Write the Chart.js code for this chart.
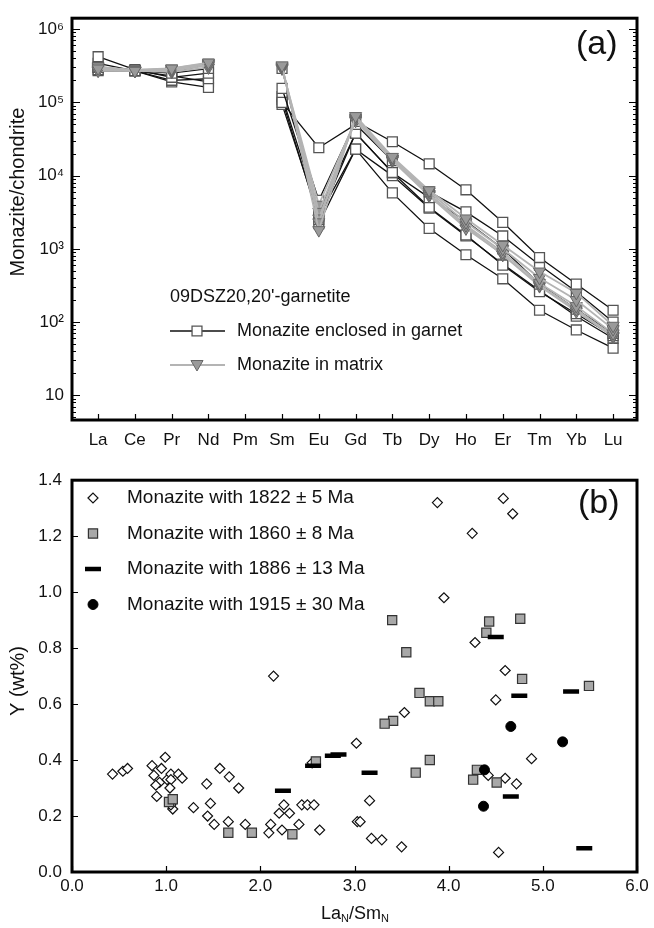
<!DOCTYPE html>
<html>
<head>
<meta charset="utf-8">
<script src="https://cdn.jsdelivr.net/npm/chart.js@4.4.1/dist/chart.umd.min.js"></script>
<style>
  body { margin: 0; background: #fff; width: 654px; height: 928px; position: relative; overflow: hidden; }
  .box { position: absolute; left: 0; width: 654px; }
  #boxA { top: 0; height: 460px; }
  #boxB { top: 460px; height: 468px; }
</style>
</head>
<body>
<div class="box" id="boxA"><canvas id="chartA" width="654" height="460"></canvas></div>
<div class="box" id="boxB"><canvas id="chartB" width="654" height="468"></canvas></div>
<script>
// ---- panel (a): chondrite-normalised REE ----
const ree = ["La", "Ce", "Pr", "Nd", "Pm", "Sm", "Eu", "Gd", "Tb", "Dy", "Ho", "Er", "Tm", "Yb", "Lu"];

// monazite enclosed in garnet (open squares)
const garnet1 = [3.0e5, 2.7e5, 2.5e5, 2.9e5, null, 1.55e5, 4.6e3, 5.5e4, 2.9e4, 1.45e4, 6.4e3, 2.3e3, 760, 330, 145];
const garnet2 = [4.2e5, 2.8e5, 2.2e5, 2.5e5, null, 1.0e5, 2.4e4, 5.0e4, 1.6e4, 6.0e3, 3.2e3, 1.5e3, 600, 260, 100];
const garnet3 = [3.4e5, 2.7e5, 2.0e5, 2.1e5, null, 1.2e5, 3.2e3, 3.8e4, 1.1e4, 5.0e3, 2.4e3, 1.0e3, 330, 150, 70];
const garnet4 = [2.8e5, 2.7e5, 1.9e5, 1.6e5, null, 9.4e4, 2.8e3, 2.3e4, 5.8e3, 1.9e3, 830, 390, 145, 78, 44];
const garnet5 = [3.0e5, 2.7e5, 2.3e5, 1.9e5, null, 1.1e5, 2.5e3, 3.8e4, 1.1e4, 3.7e3, 1.55e3, 600, 260, 130, 65];
const garnet6 = [2.7e5, 2.7e5, 2.6e5, 3.3e5, null, 2.9e5, 2.2e3, 2.3e4, 1.0e4, 3.6e3, 1.5e3, 620, 270, 120, 60];

// monazite in matrix (grey triangles)
const matrix1 = [2.9e5, 2.7e5, 2.9e5, 3.5e5, null, 3.2e5, 1.8e3, 6.5e4, 1.8e4, 6.3e3, 2.6e3, 1.13e3, 490, 250, 89];
const matrix2 = [3.1e5, 2.7e5, 2.8e5, 3.3e5, null, 3.1e5, 2.3e3, 6.2e4, 1.7e4, 6.0e3, 2.3e3, 1.0e3, 400, 200, 80];
const matrix3 = [2.7e5, 2.7e5, 2.7e5, 3.2e5, null, 3.0e5, 2.6e3, 6.0e4, 1.65e4, 5.6e3, 2.1e3, 900, 340, 165, 70];
const matrix4 = [2.8e5, 2.7e5, 2.6e5, 3.0e5, null, 3.0e5, 3.2e3, 5.6e4, 1.6e4, 5.3e3, 1.9e3, 840, 320, 150, 65];
const matrix5 = [3.0e5, 2.8e5, 2.9e5, 3.4e5, null, 2.9e5, 4.0e3, 5.8e4, 1.7e4, 5.5e3, 2.0e3, 830, 310, 140, 63];

const logTicks = [1e1, 1e2, 1e3, 1e4, 1e5, 1e6];
const logLabels = ["10", "10\u00B2", "10\u00B3", "10\u2074", "10\u2075", "10\u2076"];

// ---- panel (b): Y vs LaN/SmN ----
const age1822X = [0.43, 0.54, 0.59, 0.85, 0.95, 0.99, 0.87, 0.93, 0.89, 1.01, 1.05, 1.05, 1.04, 1.13, 1.17, 0.90, 1.07, 1.05, 1.29, 1.43, 1.47, 1.44, 1.51, 1.57, 1.67, 1.77, 1.66, 1.84, 2.14, 2.11, 2.09, 2.20, 2.25, 2.31, 2.23, 2.41, 2.44, 2.50, 2.57, 2.63, 2.55, 3.02, 3.03, 3.53, 4.60, 4.50, 4.88, 4.42, 4.60, 4.72, 3.16, 3.06, 3.18, 3.29, 3.50, 4.53, 3.88, 4.58, 4.68, 4.25, 3.95, 4.28];
const age1822Y = [0.35, 0.36, 0.37, 0.38, 0.37, 0.41, 0.345, 0.32, 0.31, 0.33, 0.35, 0.33, 0.30, 0.35, 0.335, 0.27, 0.225, 0.24, 0.23, 0.315, 0.245, 0.20, 0.17, 0.37, 0.34, 0.30, 0.18, 0.17, 0.70, 0.17, 0.14, 0.21, 0.24, 0.21, 0.15, 0.17, 0.24, 0.24, 0.24, 0.15, 0.39, 0.46, 0.18, 0.57, 0.72, 0.615, 0.405, 0.345, 0.335, 0.315, 0.255, 0.18, 0.12, 0.115, 0.09, 0.07, 1.32, 1.335, 1.28, 1.21, 0.98, 0.82];

const age1860X = [1.03, 1.07, 1.66, 1.91, 2.34, 2.59, 3.55, 4.78, 3.69, 3.80, 3.89, 3.41, 3.32, 3.80, 3.65, 4.30, 4.26, 4.51, 5.49, 3.40, 4.43, 4.76, 4.40];
const age1860Y = [0.25, 0.26, 0.14, 0.14, 0.135, 0.395, 0.785, 0.69, 0.64, 0.61, 0.61, 0.54, 0.53, 0.40, 0.355, 0.365, 0.33, 0.32, 0.665, 0.90, 0.895, 0.905, 0.855];

const age1886X = [2.24, 2.56, 2.77, 2.83, 3.16, 4.75, 5.30, 4.66, 5.44, 4.50];
const age1886Y = [0.29, 0.38, 0.415, 0.42, 0.355, 0.63, 0.645, 0.27, 0.085, 0.84];

const age1915X = [4.66, 5.21, 4.38, 4.37];
const age1915Y = [0.52, 0.465, 0.365, 0.235];

const FONT = "'Liberation Sans', Arial, sans-serif";

const toPts = (arr) => arr.map((v, i) => ({ x: i + 1, y: v }));
const toXY = (xs, ys) => xs.map((x, i) => ({ x: x, y: ys[i] }));

function garnetSet(arr) {
  return {
    data: toPts(arr),
    borderColor: "#111",
    borderWidth: 1.3,
    pointStyle: "rect",
    pointRadius: 7,
    pointBackgroundColor: "#fff",
    pointBorderColor: "#555",
    pointBorderWidth: 1.3,
    spanGaps: false,
    tension: 0,
  };
}

function matrixSet(arr) {
  return {
    data: toPts(arr),
    borderColor: "#b4b4b4",
    borderWidth: 1.8,
    pointStyle: "triangle",
    pointRotation: 180,
    pointRadius: 7,
    pointBackgroundColor: "#9a9a9a",
    pointBorderColor: "#666",
    pointBorderWidth: 1,
    spanGaps: false,
    tension: 0,
  };
}

// frame + inward ticks for panel (a)
const frameA = {
  id: "frameA",
  afterDraw(chart) {
    const { ctx, chartArea: a } = chart;
    const ys = chart.scales.y;
    const xs = chart.scales.x;
    ctx.save();
    ctx.strokeStyle = "#000";
    ctx.lineWidth = 1.2;
    ctx.beginPath();
    for (let d = 0; d <= 6; d++) {
      for (let m = 1; m <= 9; m++) {
        const v = m * Math.pow(10, d);
        if (v < ys.min || v > ys.max) continue;
        const y = Math.round(ys.getPixelForValue(v)) + 0.5;
        const len = m === 1 ? 8 : 4;
        ctx.moveTo(a.left, y); ctx.lineTo(a.left + len, y);
        ctx.moveTo(a.right, y); ctx.lineTo(a.right - len, y);
      }
    }
    ree.forEach((r, i) => {
      const x = Math.round(xs.getPixelForValue(i + 1)) + 0.5;
      ctx.moveTo(x, a.bottom); ctx.lineTo(x, a.bottom - 6);
    });
    ctx.stroke();
    ctx.lineWidth = 3;
    ctx.strokeRect(a.left, a.top, a.right - a.left, a.bottom - a.top);

    // texts
    ctx.fillStyle = "#111";
    ctx.font = "34px " + FONT;
    ctx.textBaseline = "middle";
    ctx.textAlign = "left";
    ctx.fillText("(a)", 576, 45);

    ctx.font = "18px " + FONT;
    ctx.fillText("09DSZ20,20'-garnetite", 170, 297);
    ctx.fillText("Monazite enclosed in garnet", 237, 331);
    ctx.fillText("Monazite in matrix", 237, 365);

    // legend samples
    ctx.lineWidth = 1.3;
    ctx.strokeStyle = "#111";
    ctx.beginPath(); ctx.moveTo(170, 331); ctx.lineTo(225, 331); ctx.stroke();
    ctx.fillStyle = "#fff"; ctx.strokeStyle = "#555";
    Chart.helpers.drawPoint(ctx, { pointStyle: "rect", radius: 7, rotation: 0, borderWidth: 1.3 }, 197, 331);
    ctx.lineWidth = 1.8;
    ctx.strokeStyle = "#b4b4b4";
    ctx.beginPath(); ctx.moveTo(170, 365); ctx.lineTo(225, 365); ctx.stroke();
    ctx.fillStyle = "#9a9a9a"; ctx.strokeStyle = "#666"; ctx.lineWidth = 1;
    Chart.helpers.drawPoint(ctx, { pointStyle: "triangle", radius: 7, rotation: 180, borderWidth: 1 }, 197, 364);

    // y title
    ctx.fillStyle = "#111";
    ctx.font = "20px " + FONT;
    ctx.textAlign = "center";
    ctx.translate(18, 192);
    ctx.rotate(-Math.PI / 2);
    ctx.fillText("Monazite/chondrite", 0, 0);
    ctx.restore();
  },
};

new Chart(document.getElementById("chartA"), {
  type: "line",
  data: {
    datasets: [
      matrixSet(matrix1), matrixSet(matrix2), matrixSet(matrix3), matrixSet(matrix4), matrixSet(matrix5),
      garnetSet(garnet1), garnetSet(garnet2), garnetSet(garnet3), garnetSet(garnet4), garnetSet(garnet5), garnetSet(garnet6),
    ],
  },
  options: {
    responsive: false,
    animation: false,
    layout: { padding: { top: 14, right: 17, left: 0, bottom: 0 } },
    plugins: { legend: { display: false }, tooltip: { enabled: false } },
    scales: {
      x: {
        type: "linear",
        min: 0.29,
        max: 15.65,
        afterBuildTicks: (s) => { s.ticks = ree.map((r, i) => ({ value: i + 1 })); },
        afterFit: (s) => { s.height = 40; },
        ticks: { callback: (v) => ree[v - 1], color: "#111", font: { family: FONT, size: 17 }, padding: 10, maxRotation: 0, autoSkip: false },
        grid: { display: false, drawTicks: false },
        border: { display: false },
      },
      y: {
        type: "logarithmic",
        min: 4.6,
        max: 1.41e6,
        afterBuildTicks: (s) => { s.ticks = logTicks.map((v) => ({ value: v })); },
        afterFit: (s) => { s.width = 72; },
        ticks: { callback: (v) => logLabels[logTicks.indexOf(v)], color: "#111", font: { family: FONT, size: 17 }, padding: 8 },
        grid: { display: false, drawTicks: false },
        border: { display: false },
      },
    },
  },
  plugins: [frameA],
});

// frame + texts for panel (b)
const frameB = {
  id: "frameB",
  afterDraw(chart) {
    const { ctx, chartArea: a } = chart;
    const ys = chart.scales.y;
    const xs = chart.scales.x;
    ctx.save();
    ctx.strokeStyle = "#000";
    ctx.lineWidth = 1.2;
    ctx.beginPath();
    for (let v = 0; v <= 1.4001; v += 0.2) {
      const y = Math.round(ys.getPixelForValue(v)) + 0.5;
      ctx.moveTo(a.left, y); ctx.lineTo(a.left + 6, y);
    }
    for (let v = 0; v <= 6; v++) {
      const x = Math.round(xs.getPixelForValue(v)) + 0.5;
      ctx.moveTo(x, a.bottom); ctx.lineTo(x, a.bottom - 6);
    }
    ctx.stroke();
    ctx.lineWidth = 3;
    ctx.strokeRect(a.left, a.top, a.right - a.left, a.bottom - a.top);

    ctx.fillStyle = "#111";
    ctx.font = "34px " + FONT;
    ctx.textBaseline = "middle";
    ctx.textAlign = "left";
    ctx.fillText("(b)", 578, 44);

    const rows = [
      ["Monazite with 1822 \u00B1 5 Ma", { pointStyle: "rectRot", radius: 5, rotation: 0, borderWidth: 1.2 }, "#fff", "#111"],
      ["Monazite with 1860 \u00B1 8 Ma", { pointStyle: "rect", radius: 6.5, rotation: 0, borderWidth: 1.2 }, "#a8a8a8", "#333"],
      ["Monazite with 1886 \u00B1 13 Ma", { pointStyle: "line", radius: 8, rotation: 0, borderWidth: 4.5 }, "#000", "#000"],
      ["Monazite with 1915 \u00B1 30 Ma", { pointStyle: "circle", radius: 5, rotation: 0, borderWidth: 1 }, "#000", "#000"],
    ];
    ctx.font = "19px " + FONT;
    rows.forEach((r, i) => {
      const y = 38 + i * 35.5;
      ctx.fillStyle = r[2]; ctx.strokeStyle = r[3]; ctx.lineWidth = r[1].borderWidth;
      Chart.helpers.drawPoint(ctx, r[1], 93, y);
      ctx.fillStyle = "#111";
      ctx.fillText(r[0], 127, y);
    });

    // x title with subscripts
    const big = "18px " + FONT;
    const sub = "11px " + FONT;
    const parts = [["La", false], ["N", true], ["/Sm", false], ["N", true]];
    let w = 0;
    parts.forEach((p) => { ctx.font = p[1] ? sub : big; w += ctx.measureText(p[0]).width; });
    let x = 355 - w / 2;
    parts.forEach((p) => {
      ctx.font = p[1] ? sub : big;
      ctx.fillText(p[0], x, p[1] ? 459 : 454);
      x += ctx.measureText(p[0]).width;
    });

    ctx.font = "20px " + FONT;
    ctx.textAlign = "center";
    ctx.translate(18, 221);
    ctx.rotate(-Math.PI / 2);
    ctx.fillText("Y (wt%)", 0, 0);
    ctx.restore();
  },
};

new Chart(document.getElementById("chartB"), {
  type: "scatter",
  data: {
    datasets: [
      { data: toXY(age1915X, age1915Y), pointStyle: "circle", pointRadius: 5, pointBackgroundColor: "#000", pointBorderColor: "#000", pointBorderWidth: 1 },
      { data: toXY(age1886X, age1886Y), pointStyle: "line", pointRadius: 8, pointBorderColor: "#000", pointBorderWidth: 4.5 },
      { data: toXY(age1860X, age1860Y), pointStyle: "rect", pointRadius: 6.5, pointBackgroundColor: "#a8a8a8", pointBorderColor: "#333", pointBorderWidth: 1.2 },
      { data: toXY(age1822X, age1822Y), pointStyle: "rectRot", pointRadius: 5, pointBackgroundColor: "#fff", pointBorderColor: "#111", pointBorderWidth: 1.2 },
    ],
  },
  options: {
    responsive: false,
    animation: false,
    layout: { padding: { top: 10, right: 17, left: 0, bottom: 0 } },
    plugins: { legend: { display: false }, tooltip: { enabled: false } },
    scales: {
      x: {
        type: "linear",
        min: 0,
        max: 6,
        afterFit: (s) => { s.height = 56; },
        ticks: { stepSize: 1, callback: (v) => v.toFixed(1), color: "#111", font: { family: FONT, size: 17 }, padding: 4, maxRotation: 0 },
        grid: { display: false, drawTicks: false },
        border: { display: false },
      },
      y: {
        min: 0,
        max: 1.4,
        afterFit: (s) => { s.width = 72; },
        ticks: { stepSize: 0.2, callback: (v) => v.toFixed(1), color: "#111", font: { family: FONT, size: 17 }, padding: 10 },
        grid: { display: false, drawTicks: false },
        border: { display: false },
      },
    },
  },
  plugins: [frameB],
});
</script>
</body>
</html>
